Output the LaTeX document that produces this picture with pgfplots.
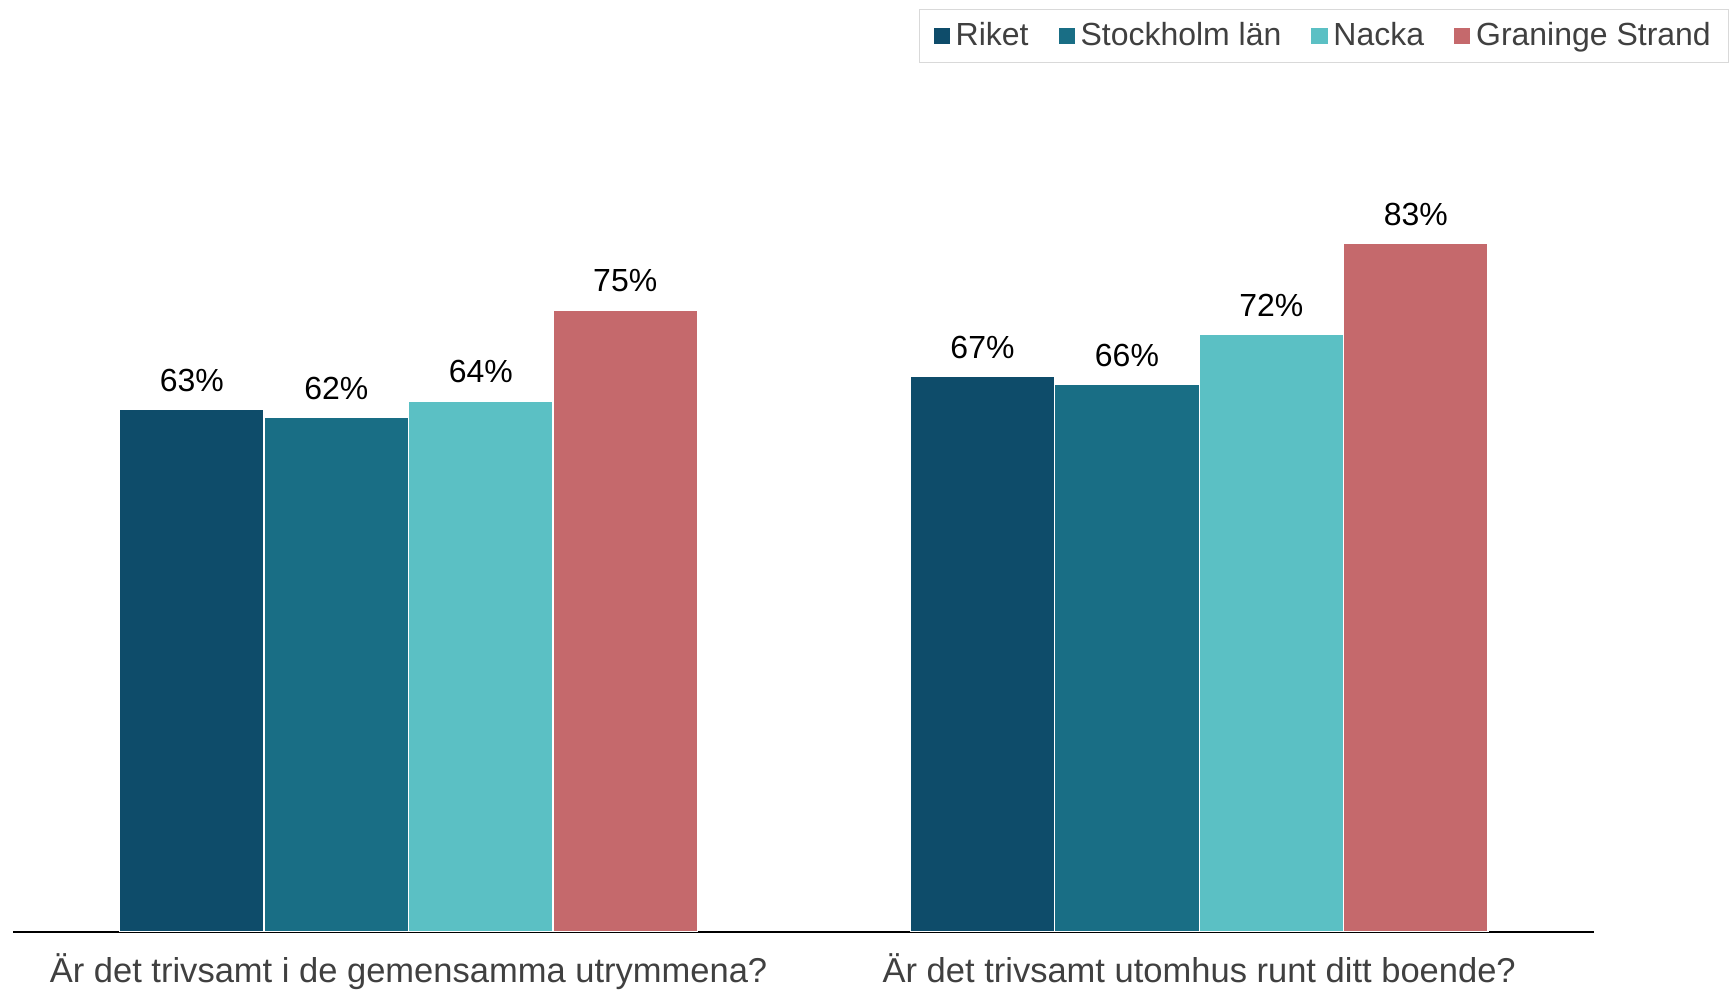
\documentclass[border=0pt]{standalone}
\usepackage{pgfplots}
\pgfplotsset{compat=1.18}
\usepackage{pgfplotstable}
\usepackage{fontspec}
\setmainfont{Liberation Sans}

\definecolor{riket}{HTML}{0E4C6A}
\definecolor{sthlm}{HTML}{196E85}
\definecolor{nacka}{HTML}{5BC0C4}
\definecolor{graninge}{HTML}{C5696C}
\definecolor{labelgray}{HTML}{404040}

% share answering yes, per area
\pgfplotstableread{
q riket sthlm nacka graninge
0 63 62 64 75
1 67 66 72 83
}\trivsel

\begin{document}
\begin{tikzpicture}
\begin{axis}[
    scale only axis,
    width=717pt, height=376pt,
    xmin=-0.5, xmax=1.5,
    ymin=0, ymax=100,
    ybar=0pt, bar width=65.5pt,
    axis y line=none,
    axis x line*=bottom,
    x axis line style={line width=1pt, black},
    xtick={0,1},
    xticklabels={Är det trivsamt i de gemensamma utrymmena?, Är det trivsamt utomhus runt ditt boende?},
    major tick length=0pt,
    xticklabel style={font=\fontsize{15.65}{18}\selectfont, text=labelgray, anchor=base, yshift=-23pt},
    nodes near coords={\pgfmathprintnumber{\pgfplotspointmeta}\%},
    every node near coord/.append style={font=\fontsize{14.5}{17}\selectfont, black, anchor=base, yshift=8.2pt, inner sep=0pt},
    /pgf/number format/assume math mode=true,
    legend columns=4,
    legend style={at={(axis description cs:1.085,1.113)}, anchor=north east,
        draw=black!15, font=\fontsize{14.5}{17}\selectfont, text=labelgray,
        inner xsep=6pt, inner ysep=4pt,
        nodes={inner xsep=2pt},
        /tikz/every even column/.append style={column sep=11pt}},
    legend image code/.code={\fill[#1] (0pt,-4pt) rectangle (8pt,4pt);},
    clip=false,
]
\addplot[fill=riket, draw=white, line width=0.6pt] table[x=q, y=riket] {\trivsel};
\addplot[fill=sthlm, draw=white, line width=0.6pt] table[x=q, y=sthlm] {\trivsel};
\addplot[fill=nacka, draw=white, line width=0.6pt] table[x=q, y=nacka] {\trivsel};
\addplot[fill=graninge, draw=white, line width=0.6pt] table[x=q, y=graninge] {\trivsel};
\legend{Riket, Stockholm län, Nacka, Graninge Strand}
\path (axis description cs:0,0) ++(-6pt,-27.5pt) (axis description cs:1,1) ++(61pt,46.5pt);
\end{axis}
\end{tikzpicture}
\end{document}
